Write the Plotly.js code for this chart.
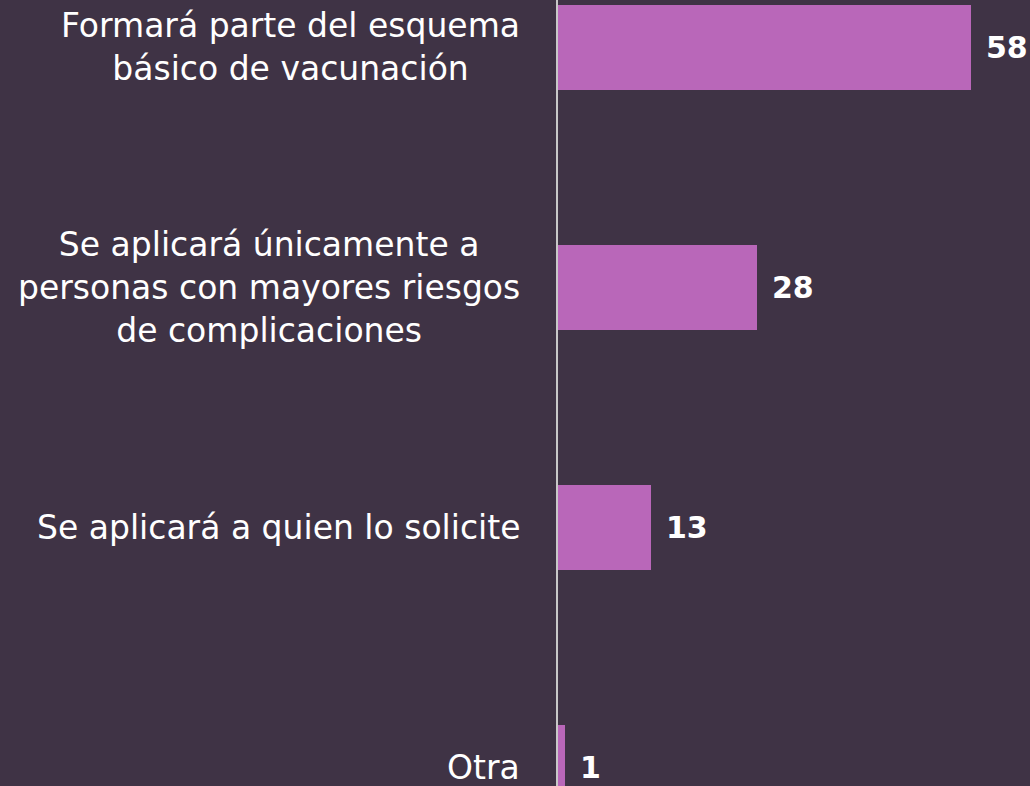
<!DOCTYPE html>
<html>
<head>
<meta charset="utf-8">
<script src="https://cdn.plot.ly/plotly-3.0.1.min.js"></script>
<style>
  html, body { margin: 0; padding: 0; background: #3f3345; }
  #chart { width: 1030px; height: 786px; }
</style>
</head>
<body>
<div id="chart"></div>
<script>
const categories = [
  'Formará parte del esquema<br>básico de vacunación',
  'Se aplicará únicamente a<br>personas con mayores riesgos<br>de complicaciones',
  'Se aplicará a quien lo solicite',
  'Otra',
];
const values = [58, 28, 13, 1];

const fontFamily = '"DejaVu Sans", "Open Sans", sans-serif';

const labelNotes = categories.map((label, i) => ({
  xref: 'paper', yref: 'y',
  x: 0, y: i,
  xanchor: 'right', yanchor: 'middle',
  xshift: -36,
  text: label,
  align: 'center',
  showarrow: false,
  font: { family: fontFamily, size: 33, color: '#ffffff' },
}));

const valueNotes = values.map((v, i) => ({
  xref: 'x', yref: 'y',
  x: v, y: i,
  xanchor: 'left', yanchor: 'middle',
  xshift: 13,
  text: `<b>${v}</b>`,
  showarrow: false,
  font: { family: fontFamily, size: 30, color: '#ffffff' },
}));

Plotly.newPlot('chart', [
  {
    type: 'bar',
    orientation: 'h',
    x: values,
    y: categories.map((_, i) => i),
    width: 0.354,
    marker: { color: '#b967b9' },
    hoverinfo: 'x',
  },
], {
  width: 1030,
  height: 786,
  margin: { l: 558, r: 0, t: 0, b: 0 },
  paper_bgcolor: '#3f3345',
  plot_bgcolor: '#3f3345',
  showlegend: false,
  bargap: 0,
  xaxis: {
    range: [0, 66.3],
    showgrid: false,
    zeroline: false,
    showticklabels: false,
    fixedrange: true,
  },
  yaxis: {
    range: [3.079, -0.196],
    showgrid: false,
    zeroline: false,
    showticklabels: false,
    showline: true,
    linecolor: '#c8c8c8',
    linewidth: 2,
    fixedrange: true,
  },
  annotations: [...labelNotes, ...valueNotes],
}, { displayModeBar: false, staticPlot: true });
</script>
</body>
</html>
